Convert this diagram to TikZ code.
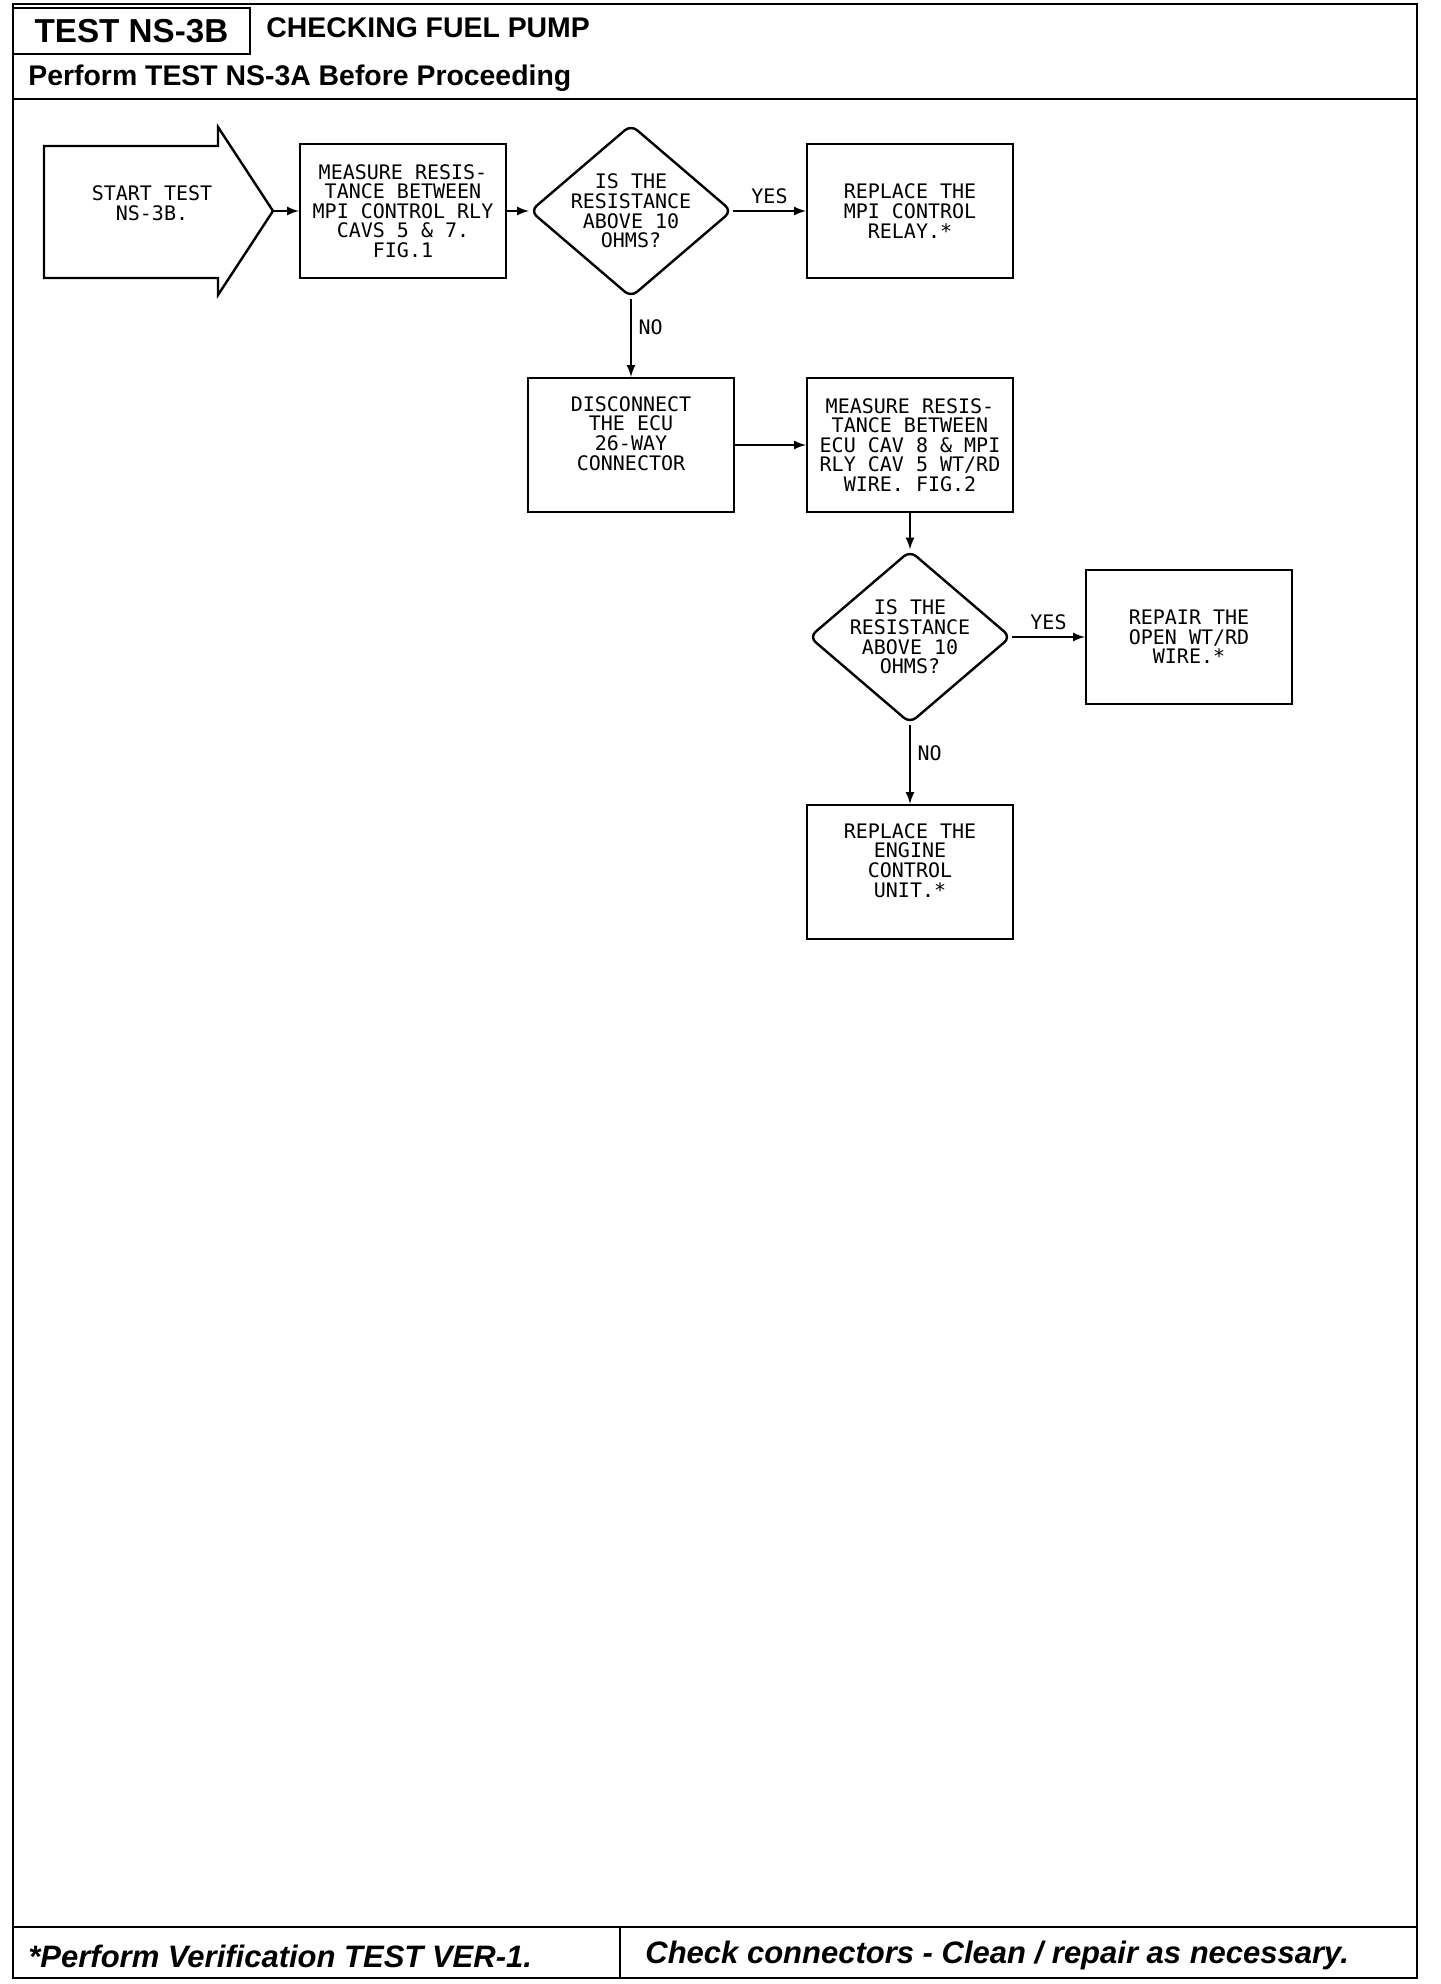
\documentclass[tikz,border=0pt]{standalone}
\usepackage{fontspec}
\setmainfont{Liberation Sans}
\newfontfamily\plotfont{DejaVu Sans Mono}
\usetikzlibrary{shapes.geometric}
\begin{document}
\begin{tikzpicture}[
  x=0.5pt,y=-0.5pt,
  box/.style={rectangle,draw,line width=1.2pt,
              minimum width=103pt,minimum height=67pt,
              align=center,font=\plotfont\fontsize{10}{9.8}\selectfont},
  query/.style={diamond,draw,line width=1.2pt,rounded corners=4pt,
                aspect=1.17,inner sep=-6pt,
                minimum width=101pt,minimum height=86.5pt,
                align=center,font=\plotfont\fontsize{10}{9.8}\selectfont},
  arr/.style={-latex,line width=1pt},
  lbl/.style={font=\plotfont\fontsize{10}{10}\selectfont},
  head/.style={inner sep=0pt,anchor=west,font=\bfseries\fontsize{14.2}{14.2}\selectfont},
  foot/.style={inner sep=0pt,anchor=west,font=\bfseries\itshape\fontsize{15.5}{15.5}\selectfont}
]
  \useasboundingbox (0,0) rectangle (1440,1984);
  \draw[line width=1.2pt] (13,4) rectangle (1417,1978);

  \node[draw,line width=1.2pt,minimum width=118.5pt,minimum height=23pt,
        font=\bfseries\fontsize{16.6}{16.6}\selectfont] (code) at (131.5,31) {TEST NS-3B};
  \node[head] (title) at (266,28) {CHECKING FUEL PUMP};
  \node[head] (before) at (28,78) {Perform TEST NS-3A Before Proceeding};
  \draw[line width=1.2pt] (13,99) -- (1417,99);

  \node[align=center,font=\plotfont\fontsize{10}{9.8}\selectfont] (start) at (152,203)
    {START TEST\\NS-3B.};
  \coordinate (tip) at (273,211);
  \draw[line width=1.2pt] (44,146) -- (218,146) -- (218,127) -- (tip)
    -- (218,295) -- (218,278) -- (44,278) -- cycle;

  \node[box] (ohm1) at (403,211)
    {MEASURE RESIS-\\TANCE BETWEEN\\MPI CONTROL RLY\\CAVS 5 \& 7.\\FIG.1};
  \node[query] (chk1) at (631,211)
    {IS THE\\RESISTANCE\\ABOVE 10\\OHMS?};
  \node[box] (relay) at (910,211)
    {REPLACE THE\\MPI CONTROL\\RELAY.*};
  \node[box] (unplug) at (631,445)
    {DISCONNECT\\THE ECU\\26-WAY\\CONNECTOR\\[2pt]};
  \node[box] (ohm2) at (910,445)
    {MEASURE RESIS-\\TANCE BETWEEN\\ECU CAV 8 \& MPI\\RLY CAV 5 WT/RD\\WIRE. FIG.2};
  \node[query] (chk2) at (910,637)
    {IS THE\\RESISTANCE\\ABOVE 10\\OHMS?};
  \node[box] (wire) at (1189,637)
    {REPAIR THE\\OPEN WT/RD\\WIRE.*};
  \node[box] (ecu) at (910,872)
    {REPLACE THE\\ENGINE\\CONTROL\\UNIT.*\\[2pt]};

  \draw[arr] (tip) -- (ohm1);
  \draw[arr] (ohm1) -- (chk1);
  \draw[arr] (chk1) -- (relay) node[midway,above,lbl]{YES};
  \draw[arr] (chk1) -- (unplug) node[pos=0.36,right,lbl]{NO};
  \draw[arr] (unplug) -- (ohm2);
  \draw[arr] (ohm2) -- (chk2);
  \draw[arr] (chk2) -- (wire) node[midway,above,lbl]{YES};
  \draw[arr] (chk2) -- (ecu) node[pos=0.36,right,lbl]{NO};

  \draw[line width=1.2pt] (13,1927) -- (1417,1927);
  \draw[line width=1.2pt] (620,1927) -- (620,1978);
  \node[foot] (verify) at (28,1956) {*Perform Verification TEST VER-1.};
  \node[foot] (hint) at (645,1955) {Check connectors - Clean / repair as necessary.};
\end{tikzpicture}
\end{document}
